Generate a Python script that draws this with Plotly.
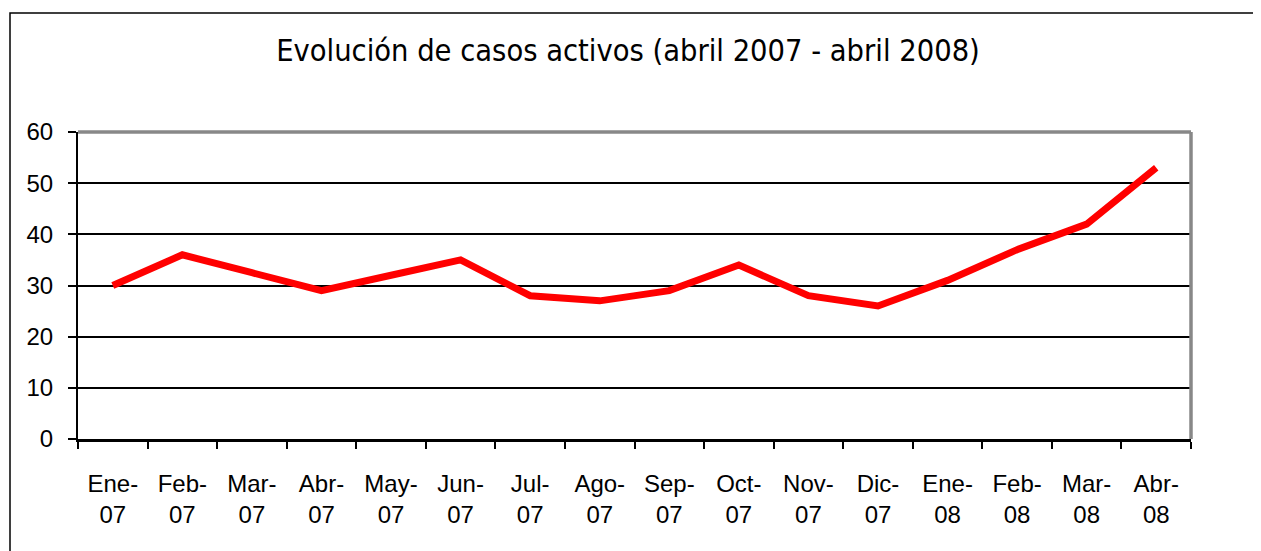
import plotly.graph_objects as go

meses = ["Ene-<br>07", "Feb-<br>07", "Mar-<br>07", "Abr-<br>07", "May-<br>07", "Jun-<br>07",
         "Jul-<br>07", "Ago-<br>07", "Sep-<br>07", "Oct-<br>07", "Nov-<br>07", "Dic-<br>07",
         "Ene-<br>08", "Feb-<br>08", "Mar-<br>08", "Abr-<br>08"]
casos = [30, 36, 32.5, 29, 32, 35, 28, 27, 29, 34, 28, 26, 31, 37, 42, 53]
y_ticks = [0, 10, 20, 30, 40, 50, 60]

# page body adds an 8px offset; positions below are compensated
OFF = 8
W, H = 1261, 551
L, R, T, B = 78 - OFF, 70 + OFF, 132 - OFF, 112 + OFF
pw, ph = W - L - R, H - T - B

def px(x):
    return (x - OFF - L) / pw

def py(y):
    return (H - B - (y - OFF)) / ph

fig = go.Figure()
fig.add_trace(go.Scatter(x=meses, y=casos, mode="lines",
                         line=dict(color="#ff0000", width=7),
                         hoverinfo="x+y", showlegend=False))

fig.update_layout(
    width=W, height=H,
    margin=dict(l=L, r=R, t=T, b=B, autoexpand=False),
    paper_bgcolor="white", plot_bgcolor="white",
    title=dict(text="Evolución de casos activos (abril 2007 - abril 2008)",
               font=dict(family="DejaVu Sans Condensed, Liberation Sans, Arial", size=30.5, color="black"),
               x=(628 - OFF) / W, xanchor="center", y=1 - (50 - OFF) / H, yanchor="middle"),
    xaxis=dict(type="category", showgrid=False, zeroline=False,
               showline=True, linecolor="black", linewidth=2.5,
               ticks="outside", ticklen=7, tickwidth=2, tickcolor="black",
               tickson="boundaries", ticklabelstandoff=21,
               tickfont=dict(family="Liberation Sans, Arial", size=24, color="black"),
               range=[-0.5, len(meses) - 0.5]),
    yaxis=dict(range=[0, 60], tickvals=y_ticks, showgrid=True,
               gridcolor="black", gridwidth=1.5, zeroline=False,
               showline=True, linecolor="black", linewidth=2,
               ticks="outside", ticklen=8, tickwidth=2, tickcolor="black",
               ticklabelstandoff=10,
               tickfont=dict(family="Liberation Sans, Arial", size=24, color="black")),
    shapes=[
        dict(type="line", xref="paper", yref="paper", x0=0, x1=1, y0=1, y1=1,
             line=dict(color="#888888", width=3.5)),
        dict(type="line", xref="paper", yref="paper", x0=1, x1=1, y0=0, y1=1,
             line=dict(color="#888888", width=3.5)),
        dict(type="rect", xref="paper", yref="paper", x0=px(10), x1=px(1290),
             y0=py(H + 40), y1=py(13), line=dict(color="black", width=1.5),
             fillcolor="rgba(0,0,0,0)", layer="below"),
    ],
)

fig.write_html("out.html")
